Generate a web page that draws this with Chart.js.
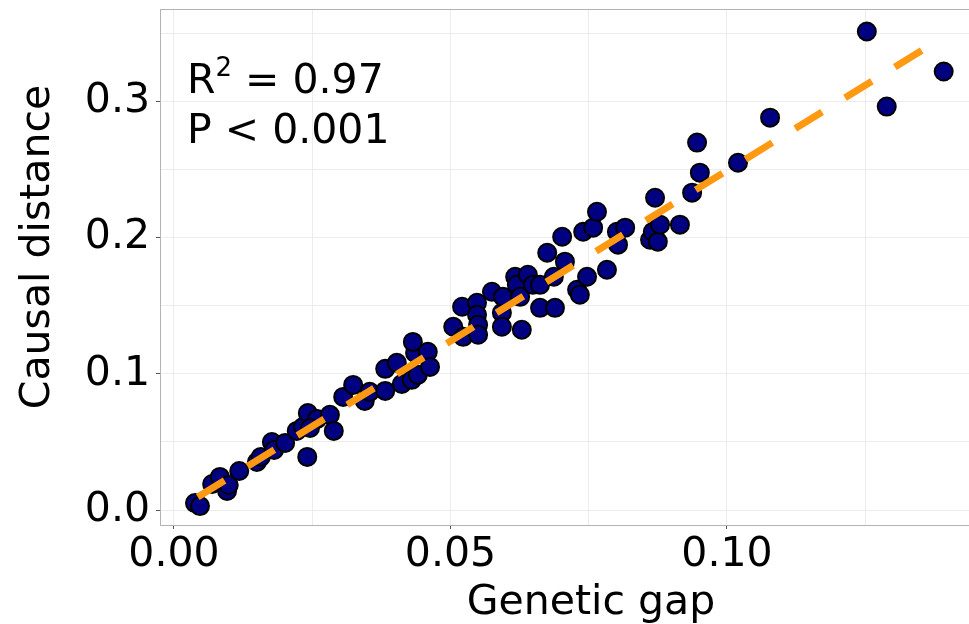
<!DOCTYPE html>
<html>
<head>
<meta charset="utf-8">
<script src="https://cdn.jsdelivr.net/npm/chart.js@4.4.1/dist/chart.umd.min.js"></script>
<style>
  html, body { margin: 0; padding: 0; background: #fff; overflow: hidden; }
  #wrap { width: 969px; height: 624px; overflow: hidden; }
</style>
</head>
<body>
<div id="wrap"><canvas id="chart_gap" width="1022" height="624"></canvas></div>
<script>
// genetic gap (x) and causal distance (y)
var genGap = [
    0.0038, 0.0047, 0.0069, 0.0083, 0.0096, 0.0099, 0.0118, 0.0150, 0.0157, 0.0177,
    0.0181, 0.0201, 0.0222, 0.0233, 0.0241, 0.0242, 0.0259, 0.0246, 0.0282, 0.0289,
    0.0306, 0.0324, 0.0345, 0.0354, 0.0382, 0.0382, 0.0403, 0.0412, 0.0430, 0.0441,
    0.0436, 0.0432, 0.0459, 0.0463, 0.0505, 0.0521, 0.0523, 0.0548, 0.0548, 0.0550,
    0.0550, 0.0575, 0.0593, 0.0593, 0.0595, 0.0617, 0.0620, 0.0626, 0.0629, 0.0640,
    0.0649, 0.0662, 0.0662, 0.0675, 0.0689, 0.0687, 0.0702, 0.0707, 0.0729, 0.0734,
    0.0740, 0.0747, 0.0758, 0.0765, 0.0783, 0.0801, 0.0803, 0.0816, 0.0861, 0.0866,
    0.0875, 0.0879, 0.0870, 0.0915, 0.0937, 0.0951, 0.0946, 0.1020, 0.1078, 0.1253,
    0.1392, 0.1289
];
var causalDist = [
    0.0051, 0.0029, 0.0191, 0.0243, 0.0140, 0.0184, 0.0287, 0.0353, 0.0390, 0.0500,
    0.0441, 0.0493, 0.0581, 0.0610, 0.0390, 0.0713, 0.0669, 0.0603, 0.0699, 0.0581,
    0.0831, 0.0919, 0.0801, 0.0868, 0.0875, 0.1037, 0.1081, 0.0926, 0.0956, 0.0993,
    0.1154, 0.1235, 0.1162, 0.1051, 0.1346, 0.1493, 0.1272, 0.1522, 0.1434, 0.1360,
    0.1287, 0.1603, 0.1449, 0.1346, 0.1566, 0.1713, 0.1654, 0.1566, 0.1324, 0.1728,
    0.1654, 0.1654, 0.1485, 0.1890, 0.1485, 0.1713, 0.2007, 0.1824, 0.1618, 0.1581,
    0.2044, 0.1713, 0.2074, 0.2191, 0.1765, 0.2044, 0.1949, 0.2074, 0.1985, 0.2044,
    0.1971, 0.2096, 0.2294, 0.2096, 0.2331, 0.2478, 0.2699, 0.2551, 0.2882, 0.3515,
    0.3221, 0.2963
];

// fitted line end points
var fitX = [0.0043, 0.139];
var fitY = [0.0096, 0.347];

var xTickVals = [0, 0.05, 0.10];
var xTickLabels = ['0.00', '0.05', '0.10'];
var yTickVals = [0, 0.1, 0.2, 0.3];
var yTickLabels = ['0.0', '0.1', '0.2', '0.3'];

var FONT = 'DejaVu Sans';
Chart.defaults.font.family = FONT;
Chart.defaults.color = '#000';

function labelFor(vals, labels, v) {
    for (var i = 0; i < vals.length; i++) {
        if (Math.abs(vals[i] - v) < 1e-9) return labels[i];
    }
    return '';
}

function noPad(s) {
    s.paddingTop = 0;
    s.paddingBottom = 0;
    s.paddingLeft = 0;
    s.paddingRight = 0;
}

var pts = genGap.map(function (x, i) { return {x: x, y: causalDist[i]}; });
var fitPts = fitX.map(function (x, i) { return {x: x, y: fitY[i]}; });

// box round the plot, axis titles and the R2 / P note
var extras = {
    id: 'extras',
    afterDraw: function (chart) {
        var c = chart.ctx, a = chart.chartArea;
        c.save();
        c.strokeStyle = '#b3b3b3';
        c.lineWidth = 1;
        c.strokeRect(a.left + 0.5, a.top + 0.5, a.right - a.left - 1, a.bottom - a.top);

        c.fillStyle = '#000';
        c.textBaseline = 'alphabetic';
        c.font = '41px "' + FONT + '"';
        c.textAlign = 'left';
        c.fillText('R', 187, 93);
        var w = c.measureText('R').width;
        c.font = '26px "' + FONT + '"';
        c.fillText('2', 187 + w, 76);
        var w2 = c.measureText('2').width;
        c.font = '41px "' + FONT + '"';
        c.fillText(' = 0.97', 187 + w + w2, 93);
        c.fillText('P < 0.001', 187, 143);

        c.textAlign = 'center';
        c.fillText('Genetic gap', 591, 614);
        c.translate(49, 247);
        c.rotate(-Math.PI / 2);
        c.fillText('Causal distance', 0, 0);
        c.restore();
    }
};

var ctx = document.getElementById('chart_gap');
var chart = new Chart(ctx, {
    type: 'scatter',
    data: {
        datasets: [{
            type: 'line',
            data: fitPts,
            borderColor: '#ff9912',
            borderWidth: 7,
            borderDash: [31.5, 27],
            borderCapStyle: 'butt',
            pointRadius: 0,
            fill: false,
            order: 0
        }, {
            data: pts,
            backgroundColor: '#000080',
            borderColor: '#000',
            borderWidth: 2,
            pointRadius: 9,
            order: 1
        }]
    },
    options: {
        responsive: false,
        animation: false,
        layout: { autoPadding: false, padding: { top: 9, right: 2, left: 0, bottom: 0 } },
        plugins: { legend: { display: false }, tooltip: { enabled: false } },
        scales: {
            x: {
                type: 'linear',
                min: -0.00253,
                max: 0.153,
                afterFit: function (s) { s.height = 99; noPad(s); },
                border: { display: false },
                grid: {
                    color: '#ececec',
                    tickLength: 4,
                    tickColor: function (c) { return c.tick && c.tick.label ? '#555' : 'rgba(0,0,0,0)'; }
                },
                ticks: {
                    stepSize: 0.025,
                    includeBounds: false,
                    autoSkip: false,
                    maxRotation: 0,
                    padding: 2,
                    font: { size: 41 },
                    color: '#000',
                    callback: function (v) { return labelFor(xTickVals, xTickLabels, v); }
                }
            },
            y: {
                type: 'linear',
                min: -0.011,
                max: 0.368,
                afterFit: function (s) { s.width = 160; noPad(s); },
                border: { display: false },
                grid: {
                    color: '#ececec',
                    tickLength: 4,
                    tickColor: function (c) { return c.tick && c.tick.label ? '#555' : 'rgba(0,0,0,0)'; }
                },
                ticks: {
                    stepSize: 0.05,
                    includeBounds: false,
                    autoSkip: false,
                    padding: 6,
                    font: { size: 41 },
                    color: '#000',
                    callback: function (v) { return labelFor(yTickVals, yTickLabels, v); }
                }
            }
        }
    },
    plugins: [extras]
});
</script>
</body>
</html>
